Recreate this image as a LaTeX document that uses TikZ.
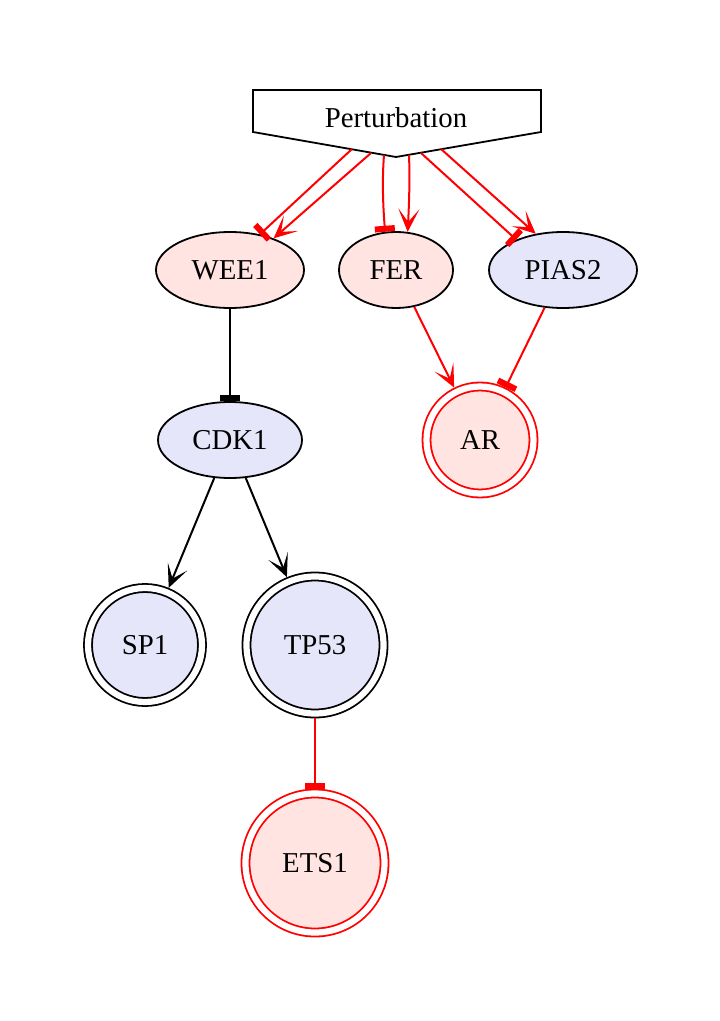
\documentclass[tikz,border=0pt]{standalone}
\usepackage{fontspec}
\setmainfont{Liberation Serif}
\usetikzlibrary{arrows.meta,shapes.geometric}
\definecolor{mrose}{HTML}{FFE4E1}
\definecolor{lav}{HTML}{E6E6FA}
\tikzset{
  ell/.style={ellipse, draw=black, line width=0.9pt, inner sep=0pt, minimum width=#1, minimum height=38pt},
  dcirc/.style={circle, line width=0.9pt, double distance=3.1pt, inner sep=0pt, outer sep=2.45pt, minimum size=#1},
  act/.style={-{Stealth[length=11.5pt,width=10.5pt,inset=6.5pt]}, line width=1pt},
  inh/.style={-{Rectangle[length=3pt,width=10pt]}, line width=1pt},
}
\begin{document}
\begin{tikzpicture}[x=0.5pt,y=-0.5pt,font=\fontsize{14.4}{16}\selectfont]
\useasboundingbox (0,0) rectangle (719,1021);
% Perturbation (inverted house)
\draw[line width=0.9pt] (253,90) -- (541,90) -- (541,132) -- (396,157) -- (253,132) -- cycle;
\node (P) at (396,118) {Perturbation};
\coordinate (pw1) at (352,149);
\coordinate (pw2) at (371,153);
\coordinate (pf1) at (384,155);
\coordinate (pf2) at (409,155);
\coordinate (pp1) at (421,153);
\coordinate (pp2) at (441,149);
% nodes
\node[ell=74pt, fill=mrose] (WEE1) at (230,270) {WEE1};
\node[ell=57pt, fill=mrose] (FER) at (396,270) {FER};
\node[ell=74pt, fill=lav] (PIAS2) at (563,270) {PIAS2};
\node[ell=72pt, fill=lav] (CDK1) at (230,440) {CDK1};
\node[dcirc=53.5pt, draw=red, double=white, fill=mrose] (AR) at (480,440) {AR};
\node[dcirc=57pt, draw=black, double=white, fill=lav] (SP1) at (145,645) {SP1};
\node[dcirc=68.5pt, draw=black, double=white, fill=lav] (TP53) at (315,645) {TP53};
\node[dcirc=69.5pt, draw=red, double=white, fill=mrose] (ETS1) at (315,863) {ETS1};
% edges
\draw[inh, red] (pw1) -- (WEE1.50);
\draw[act, red] (pw2) -- (WEE1.36);
\draw[inh, red] (pf1) .. controls (382,180) and (383,205) .. (FER.106);
\draw[act, red] (pf2) .. controls (410,180) and (409,205) .. (FER.73);
\draw[inh, red] (pp1) -- (PIAS2.147);
\draw[act, red] (pp2) -- (PIAS2.127);
\draw[inh, black] (WEE1) -- (CDK1);
\draw[act, red] (FER) -- (AR);
\draw[inh, red] (PIAS2) -- (AR);
\draw[act, black] (CDK1) -- (SP1);
\draw[act, black] (CDK1) -- (TP53);
\draw[inh, red] (TP53) -- (ETS1);
\end{tikzpicture}
\end{document}
